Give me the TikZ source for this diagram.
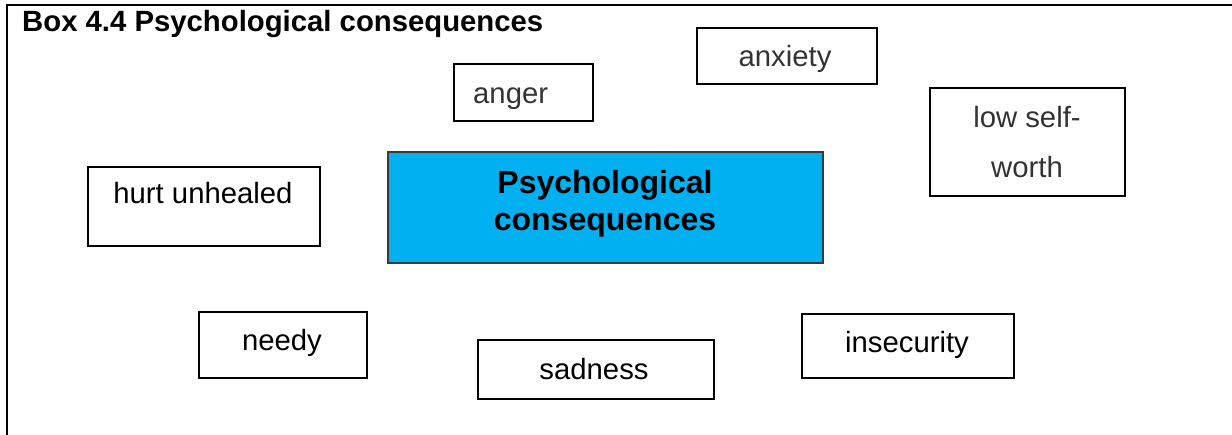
\documentclass[tikz,border=0pt]{standalone}
\usepackage{fontspec}
\setmainfont{Liberation Sans}
\definecolor{boxblue}{HTML}{00B0F0}
\definecolor{boxedge}{HTML}{3A3A3A}
\definecolor{softink}{HTML}{333333}
\begin{document}
\begin{tikzpicture}[x=1pt,y=-1pt,
  frame/.style={line width=2.8pt, line cap=rect},
  wordbox/.style={draw=black, line width=1.8pt, inner sep=0pt, anchor=north west},
  corebox/.style={draw=boxedge, line width=1.5pt, fill=boxblue, inner sep=0pt, anchor=north west},
  word/.style={inner sep=0pt, font=\fontsize{29.3}{35}\selectfont, text=black},
  softword/.style={word, text=softink},
  coreword/.style={inner sep=0pt, font=\fontsize{32}{38}\selectfont\bfseries, text=black},
  heading/.style={inner sep=0pt, anchor=base west, font=\fontsize{29.3}{35}\selectfont\bfseries}]
\useasboundingbox (0,0) rectangle (1232,434);

% outer frame: top rule and left rule only
\coordinate (fl) at (7,434);
\coordinate (fc) at (7,5);
\coordinate (fr) at (1232,5);
\draw[frame] (fl) -- (fc) -- (fr);

\node[heading] (title) at (22,31) {Box 4.4 Psychological consequences};

% boxes
\node[wordbox, minimum width=139pt, minimum height=57pt] (anger) at (453,63) {};
\node[wordbox, minimum width=180pt, minimum height=56pt] (anxiety) at (696,27) {};
\node[wordbox, minimum width=195pt, minimum height=108pt] (worth) at (929,87) {};
\node[wordbox, minimum width=232pt, minimum height=79pt] (hurt) at (87,166) {};
\node[corebox, minimum width=435pt, minimum height=111pt] (core) at (387,151) {};
\node[wordbox, minimum width=168pt, minimum height=66pt] (needy) at (198,311) {};
\node[wordbox, minimum width=236pt, minimum height=59pt] (sad) at (477,339) {};
\node[wordbox, minimum width=212pt, minimum height=64pt] (insec) at (801,313) {};

% labels
\node[softword, anchor=base west] (tanger) at (473,103) {anger};
\node[softword, anchor=base] (tanxiety) at (785,66) {anxiety};
\node[softword, anchor=base] (tworth1) at (1027,127) {low self-};
\node[softword, anchor=base] (tworth2) at (1027,177) {worth};
\node[word, anchor=base] (thurt) at (203,203) {hurt unhealed};
\node[coreword, anchor=base] (tcore1) at (605,193) {Psychological};
\node[coreword, anchor=base] (tcore2) at (605,230) {consequences};
\node[word, anchor=base] (tneedy) at (282,350) {needy};
\node[word, anchor=base] (tsad) at (594,379) {sadness};
\node[word, anchor=base] (tinsec) at (907,352) {insecurity};
\end{tikzpicture}
\end{document}
